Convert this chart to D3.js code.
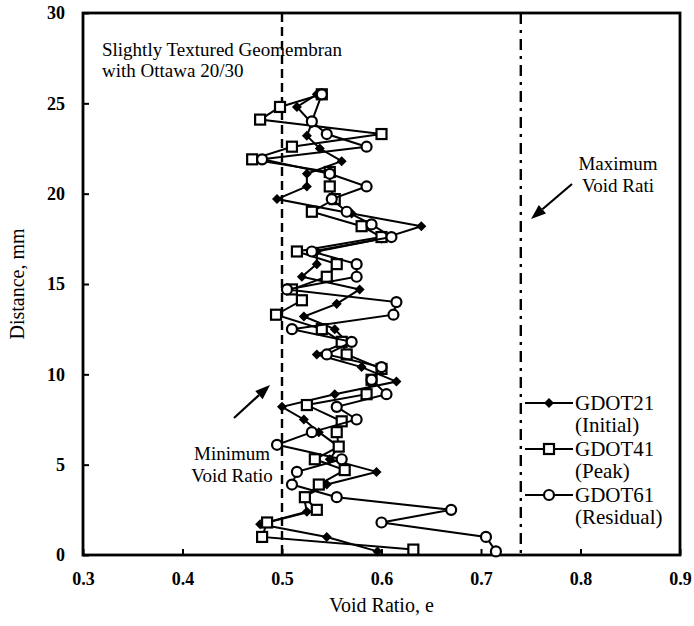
<!DOCTYPE html>
<html>
<head>
<meta charset="utf-8">
<script src="https://cdn.jsdelivr.net/npm/d3@7"></script>
<style>
body { margin: 0; background: #fff; }
svg { display: block; }
text { font-family: "Liberation Serif", "Times New Roman", serif; fill: #000; }
</style>
</head>
<body>
<div id="chart"></div>
<script>
// GDOT21 (Initial)
var depth21 = [0.2,1.0,1.7,2.4,3.2,3.9,4.6,5.3,6.0,6.8,7.5,8.2,8.9,9.6,10.4,11.1,11.8,12.5,13.2,13.9,14.7,15.4,16.1,16.8,17.5,18.2,18.9,19.7,20.4,21.1,21.8,22.5,23.2,23.9,24.8,25.5];
var void21 = [0.596,0.545,0.478,0.525,0.522,0.545,0.595,0.548,0.557,0.537,0.522,0.500,0.553,0.615,0.580,0.535,0.565,0.553,0.522,0.555,0.578,0.520,0.535,0.535,0.600,0.640,0.570,0.495,0.525,0.525,0.560,0.538,0.525,0.530,0.515,0.535];
// GDOT41 (Peak)
var depth41 = [0.3,1.0,1.8,2.5,3.2,3.9,4.7,5.3,6.0,6.8,7.4,8.3,8.9,9.7,10.3,11.1,11.8,12.5,13.3,14.1,14.7,15.4,16.1,16.8,17.6,18.2,19.0,19.7,20.4,21.2,21.9,22.6,23.3,24.1,24.8,25.5];
var void41 = [0.632,0.480,0.485,0.535,0.523,0.537,0.563,0.533,0.557,0.555,0.560,0.525,0.585,0.590,0.600,0.565,0.560,0.540,0.494,0.520,0.510,0.545,0.555,0.515,0.600,0.580,0.530,0.553,0.548,0.548,0.470,0.510,0.600,0.478,0.498,0.540];
// GDOT61 (Residual)
var depth61 = [0.2,1.0,1.8,2.5,3.2,3.9,4.6,5.3,6.1,6.8,7.5,8.2,8.9,9.7,10.4,11.1,11.8,12.5,13.3,14.0,14.7,15.4,16.1,16.8,17.6,18.3,19.0,19.7,20.4,21.1,21.9,22.6,23.3,24.0,25.5];
var void61 = [0.715,0.705,0.600,0.670,0.555,0.510,0.515,0.560,0.495,0.530,0.575,0.555,0.605,0.590,0.600,0.545,0.570,0.510,0.612,0.615,0.505,0.575,0.575,0.530,0.610,0.590,0.565,0.550,0.585,0.548,0.480,0.585,0.545,0.530,0.540];

var xTicks = [0.3,0.4,0.5,0.6,0.7,0.8,0.9];
var yTicks = [0,5,10,15,20,25,30];
var minVoid = 0.5, maxVoid = 0.74;

var series = [
  {name: "GDOT21", sub: "(Initial)", depth: depth21, vals: void21, shape: "diamond"},
  {name: "GDOT41", sub: "(Peak)", depth: depth41, vals: void41, shape: "square"},
  {name: "GDOT61", sub: "(Residual)", depth: depth61, vals: void61, shape: "circle"}
];

var W = 694, H = 626;
var plot = {left: 83, right: 680, top: 13, bottom: 555};

var svg = d3.select("#chart").append("svg").attr("width", W).attr("height", H);

var x = d3.scaleLinear().domain([0.3, 0.9]).range([plot.left, plot.right]);
var y = d3.scaleLinear().domain([0, 30]).range([plot.bottom, plot.top]);

// reference lines
svg.append("line")
  .attr("x1", x(minVoid)).attr("x2", x(minVoid)).attr("y1", y(30)).attr("y2", y(0))
  .attr("stroke", "#000").attr("stroke-width", 2.4).attr("stroke-dasharray", "9,5");
svg.append("line")
  .attr("x1", x(maxVoid)).attr("x2", x(maxVoid)).attr("y1", y(30)).attr("y2", y(0))
  .attr("stroke", "#000").attr("stroke-width", 2.4).attr("stroke-dasharray", "11,6,3,6");

// axes
var xAxis = d3.axisBottom(x).tickValues(xTicks).tickSize(-6).tickPadding(17).tickFormat(d3.format(".1f"));
var yAxis = d3.axisLeft(y).tickValues(yTicks).tickSize(-6).tickPadding(18).tickFormat(d3.format("d"));

var gx = svg.append("g").attr("transform", "translate(0," + plot.bottom + ")").call(xAxis);
var gy = svg.append("g").attr("transform", "translate(" + plot.left + ",0)").call(yAxis);
[gx, gy].forEach(function(g) {
  g.attr("font-family", "Liberation Serif, serif").attr("font-size", 18).attr("font-weight", "bold");
  g.select(".domain").remove();
  g.selectAll(".tick line").attr("stroke", "#000").attr("stroke-width", 2);
  g.selectAll(".tick text").attr("fill", "#000");
});

svg.append("rect")
  .attr("x", plot.left).attr("y", plot.top).attr("width", plot.right - plot.left).attr("height", plot.bottom - plot.top)
  .attr("fill", "none").attr("stroke", "#000").attr("stroke-width", 2.8);

// axis titles
svg.append("text").attr("x", (plot.left + plot.right) / 2).attr("y", 612)
  .attr("text-anchor", "middle").style("font-size", "20px").text("Void Ratio, e");
svg.append("text").attr("transform", "translate(24," + ((plot.top + plot.bottom) / 2) + ") rotate(-90)")
  .attr("text-anchor", "middle").style("font-size", "20px").text("Distance, mm");

// series
function drawMarker(g, shape, cx, cy) {
  if (shape === "diamond") {
    g.append("path").attr("d", d3.symbol(d3.symbolDiamond2, 64)())
      .attr("transform", "translate(" + cx + "," + cy + ")").attr("fill", "#000");
  } else if (shape === "square") {
    g.append("rect").attr("x", cx - 5).attr("y", cy - 5).attr("width", 10).attr("height", 10)
      .attr("fill", "#fff").attr("stroke", "#000").attr("stroke-width", 2.2);
  } else {
    g.append("circle").attr("cx", cx).attr("cy", cy).attr("r", 5)
      .attr("fill", "#fff").attr("stroke", "#000").attr("stroke-width", 2.2);
  }
}

var line = d3.line().x(function(d) { return x(d[0]); }).y(function(d) { return y(d[1]); });

series.forEach(function(s) {
  var pts = s.vals.map(function(v, i) { return [v, s.depth[i]]; });
  var g = svg.append("g");
  g.append("path").attr("d", line(pts)).attr("fill", "none").attr("stroke", "#000").attr("stroke-width", 2);
  pts.forEach(function(p) { drawMarker(g, s.shape, x(p[0]), y(p[1])); });
});

// legend
series.forEach(function(s, i) {
  var ly = 403 + i * 46;
  var g = svg.append("g");
  g.append("line").attr("x1", 525).attr("x2", 573).attr("y1", ly).attr("y2", ly)
    .attr("stroke", "#000").attr("stroke-width", 2.2);
  drawMarker(g, s.shape, 549, ly);
  g.append("text").attr("x", 575).attr("y", ly + 7).style("font-size", "21px").text(s.name);
  g.append("text").attr("x", 575).attr("y", ly + 29).style("font-size", "21px").text(s.sub);
});

// annotations
var title = svg.append("text").style("font-size", "19px");
title.append("tspan").attr("x", 102).attr("y", 56).text("Slightly Textured Geomembran");
title.append("tspan").attr("x", 102).attr("y", 77).text("with Ottawa 20/30");

var maxLbl = svg.append("text").attr("text-anchor", "middle").style("font-size", "19px");
maxLbl.append("tspan").attr("x", 618).attr("y", 170).text("Maximum");
maxLbl.append("tspan").attr("x", 618).attr("y", 192).text("Void Rati");

var minLbl = svg.append("text").attr("text-anchor", "middle").style("font-size", "19px");
minLbl.append("tspan").attr("x", 232).attr("y", 460).text("Minimum");
minLbl.append("tspan").attr("x", 232).attr("y", 482).text("Void Ratio");

function arrow(x1, y1, x2, y2) {
  var ang = Math.atan2(y2 - y1, x2 - x1);
  var len = 15, wid = 5.5;
  var bx = x2 - len * Math.cos(ang), by = y2 - len * Math.sin(ang);
  svg.append("line").attr("x1", x1).attr("y1", y1).attr("x2", bx).attr("y2", by)
    .attr("stroke", "#000").attr("stroke-width", 2.2);
  var px = -Math.sin(ang) * wid, py = Math.cos(ang) * wid;
  svg.append("path")
    .attr("d", "M" + x2 + "," + y2 + "L" + (bx + px) + "," + (by + py) + "L" + (bx - px) + "," + (by - py) + "Z")
    .attr("fill", "#000");
}
arrow(572, 184, 531, 219);
arrow(234, 418, 270, 385);
</script>
</body>
</html>
